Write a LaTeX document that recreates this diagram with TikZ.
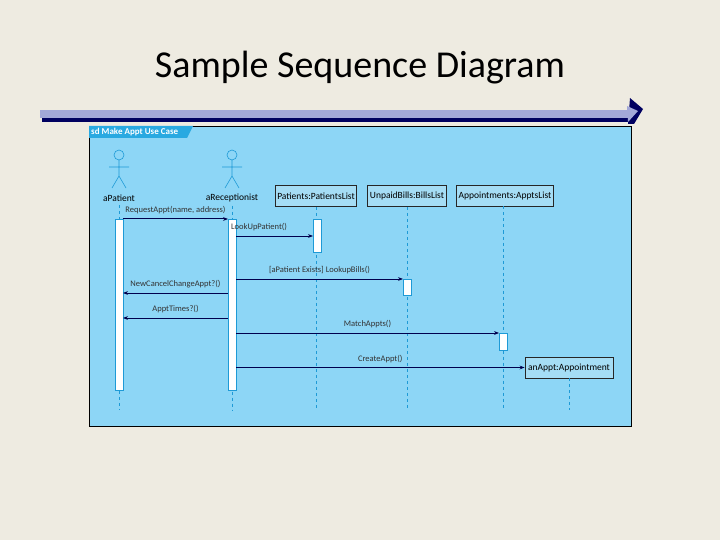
\documentclass[tikz,border=0pt]{standalone}
\usepackage{fontspec}
\setmainfont{Carlito}
\usetikzlibrary{arrows.meta}
\definecolor{bg}{HTML}{EEEBE1}
\definecolor{frameblue}{HTML}{8DD6F6}
\definecolor{tabblue}{HTML}{29A9E1}
\definecolor{lav}{HTML}{A3A8D8}
\definecolor{navy}{HTML}{000060}
\definecolor{lifec}{HTML}{1E9AD6}
\definecolor{boxfill}{HTML}{A5DDF5}
\tikzset{
  obj/.style={draw=black!85, line width=0.9pt, fill=boxfill, font=\fontsize{9.5}{10}\selectfont, inner sep=2pt, minimum height=21pt},
  life/.style={draw=lifec, dashed, line width=0.9pt},
  act/.style={draw=lifec, fill=white, line width=0.6pt},
  msg/.style={draw=navy!80!black, line width=1pt, -{Stealth[length=5pt]}},
  lbl/.style={font=\fontsize{8.5}{9}\selectfont, text=black!80},
  actor/.style={draw=lifec, line width=0.6pt}
}
\begin{document}
\begin{tikzpicture}[x=1pt,y=-1pt]
\fill[bg] (0,0) rectangle (720,540);
\useasboundingbox (0,0) rectangle (720,540);
\node (title) at (360,68) {\fontsize{38}{44}\selectfont Sample Sequence Diagram};
% header bar
\fill[lav] (40,110) rectangle (632,118);
\fill[navy] (42,118.5) rectangle (632,122);
\fill[navy] (630,98) -- (643,109) -- (634,124) -- (628,124) -- cycle;
\fill[lav] (627,106) -- (638,111) -- (628,122) -- cycle;
% frame
\draw[fill=frameblue, line width=0.8pt] (89,126) rectangle (631,426);
\fill[tabblue] (89,126) -- (193,126) -- (187,138) -- (89,138) -- cycle;
\node[anchor=west, text=white, font=\fontsize{9}{10}\selectfont\bfseries, inner sep=1pt] (tab) at (90,132) {sd Make Appt Use Case};
% actors
\foreach \x/\n/\t in {119/pat/aPatient, 232/rec/aReceptionist}{
  \draw[actor] (\x,155) circle (5);
  \draw[actor] (\x,160) -- (\x,176) (\x-10,167) -- (\x+10,167) (\x,176) -- (\x-7,188) (\x,176) -- (\x+7,188);
  \node[font=\fontsize{9.5}{10}\selectfont] (\n) at (\x,198) {\t};
}
% objects
\node[obj] (pl) at (316,196) {Patients:PatientsList};
\node[obj] (ub) at (407,196) {UnpaidBills:BillsList};
\node[obj] (al) at (505,196) {Appointments:ApptsList};
\node[obj, minimum width=88pt] (ap) at (569,367.5) {anAppt:Appointment};
% lifelines
\coordinate (pe) at (119,410); \coordinate (re) at (232,410);
\coordinate (alt) at (503,206.5);
\draw[life] (pat.south) -- (pe);
\draw[life] (rec.south) -- (re);
\draw[life] (pl.south) -- (316,410);
\draw[life] (ub.south) -- (407,410);
\draw[life] (alt) -- (503,410);
\draw[life] (ap.south) -- (569,410);
% activations
\draw[act] (115,219) rectangle (123,390);
\draw[act] (228,219) rectangle (236,390);
\draw[act] (313,219) rectangle (321,252);
\draw[act] (403,279) rectangle (411,295);
\draw[act] (499,333) rectangle (507,350);
% messages
\draw[msg] (123,219) -- node[lbl, above=1pt]{RequestAppt(name, address)} (228,219);
\draw[msg] (236,236) -- node[lbl, above=1pt, pos=0.3]{LookUpPatient()} (313,236);
\draw[msg] (236,279) -- node[lbl, above=1pt]{[aPatient Exists] LookupBills()} (403,279);
\draw[msg] (228,293) -- node[lbl, above=1pt]{NewCancelChangeAppt?()} (123,293);
\draw[msg] (228,318) -- node[lbl, above=1pt]{ApptTimes?()} (123,318);
\draw[msg, line width=0.6pt] (236,333) -- node[lbl, above=1pt]{MatchAppts()} (499,333);
\draw[msg] (236,367.5) -- node[lbl, above=1pt]{CreateAppt()} (ap.west);
\end{tikzpicture}
\end{document}
